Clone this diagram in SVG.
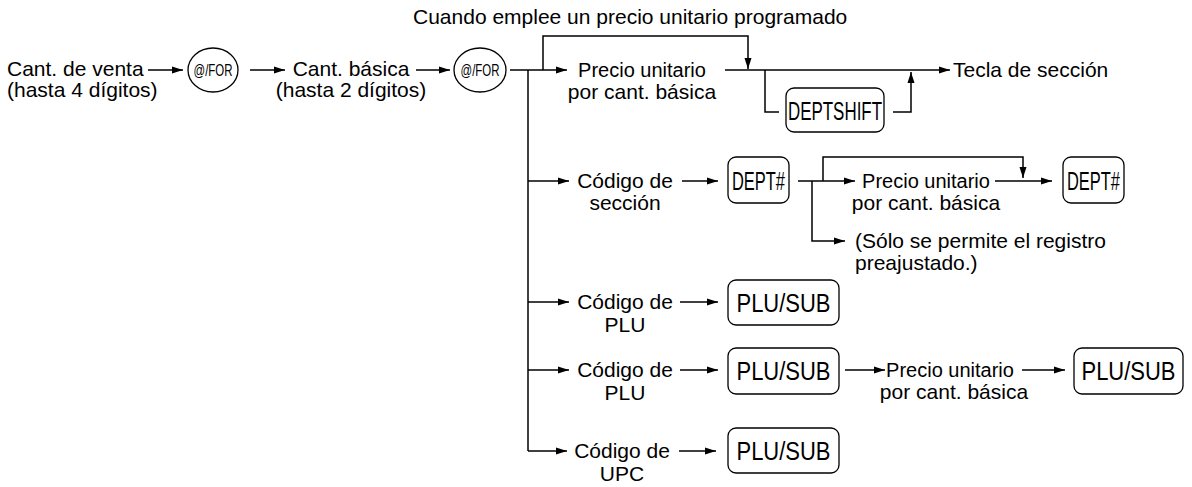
<svg xmlns="http://www.w3.org/2000/svg" width="1192" height="487" viewBox="0 0 1192 487">
<style>
.t{font-family:"Liberation Sans",Arial,sans-serif;font-size:21px;fill:#000}
.p{font-size:20px}
.m{text-anchor:middle}
.k{font-family:"Liberation Sans",Arial,sans-serif;font-size:26px;fill:#000;text-anchor:middle}
.kb{fill:#fff;stroke:#000;stroke-width:1.3}
.c{fill:none;stroke:#000;stroke-width:1.5}
</style>
<defs>
<marker id="ah" markerUnits="userSpaceOnUse" markerWidth="12" markerHeight="8" refX="11" refY="4" orient="auto">
<path d="M0,0.5 L11,4 L0,7.5 z" fill="#000"/>
</marker>
</defs>
<rect width="1192" height="487" fill="#fff"/>

<g id="connectors">
<path class="c" d="M148,70 H183" marker-end="url(#ah)"/>
<path class="c" d="M250,70 H285" marker-end="url(#ah)"/>
<path class="c" d="M416,70 H450" marker-end="url(#ah)"/>
<path class="c" d="M510,70 H567" marker-end="url(#ah)"/>
<path class="c" d="M543,70 V36 H748 V69" marker-end="url(#ah)"/>
<path class="c" d="M528,70 V451"/>
<path class="c" d="M528,181 H569" marker-end="url(#ah)"/>
<path class="c" d="M528,302 H569" marker-end="url(#ah)"/>
<path class="c" d="M528,370 H569" marker-end="url(#ah)"/>
<path class="c" d="M528,451 H567" marker-end="url(#ah)"/>
<path class="c" d="M725,70 H950" marker-end="url(#ah)"/>
<path class="c" d="M765,70 V112 H779"/>
<path class="c" d="M893,112 H911 V72" marker-end="url(#ah)"/>
<path class="c" d="M682,181 H718" marker-end="url(#ah)"/>
<path class="c" d="M798,181 H855" marker-end="url(#ah)"/>
<path class="c" d="M812,181 V241 H845" marker-end="url(#ah)"/>
<path class="c" d="M823,181 V157 H1023 V178" marker-end="url(#ah)"/>
<path class="c" d="M995,181 H1052" marker-end="url(#ah)"/>
<path class="c" d="M680,302 H718" marker-end="url(#ah)"/>
<path class="c" d="M680,370 H718" marker-end="url(#ah)"/>
<path class="c" d="M679,451 H716" marker-end="url(#ah)"/>
<path class="c" d="M845,370 H885" marker-end="url(#ah)"/>
<path class="c" d="M1022,370 H1065" marker-end="url(#ah)"/>
</g>

<g id="note"><text class="t" x="413" y="24">Cuando emplee un precio unitario programado</text></g>

<g id="cant-venta"><text class="t" x="7" y="76">Cant. de venta</text><text class="t" x="7" y="97">(hasta 4 dígitos)</text></g>
<g id="for1"><ellipse class="kb" cx="213" cy="70" rx="25" ry="22"/><text x="213" y="76" style="font-family:'Liberation Sans',Arial,sans-serif;font-size:16px;text-anchor:middle" textLength="39" lengthAdjust="spacingAndGlyphs">@/FOR</text></g>
<g id="cant-basica"><text class="t m" x="351" y="76">Cant. básica</text><text class="t m" x="351" y="97">(hasta 2 dígitos)</text></g>
<g id="for2"><ellipse class="kb" cx="480" cy="70" rx="26" ry="22"/><text x="480" y="76" style="font-family:'Liberation Sans',Arial,sans-serif;font-size:16px;text-anchor:middle" textLength="39" lengthAdjust="spacingAndGlyphs">@/FOR</text></g>

<g id="precio1"><text class="t p m" x="642" y="77">Precio unitario</text><text class="t m" x="642" y="99">por cant. básica</text></g>
<g id="deptshift"><rect class="kb" x="786" y="88" width="98" height="44" rx="8"/><text class="k" x="835" y="120" textLength="94" lengthAdjust="spacingAndGlyphs">DEPTSHIFT</text></g>
<g id="tecla"><text class="t" x="953" y="77">Tecla de sección</text></g>

<g id="codigo-seccion"><text class="t m" x="625" y="188">Código de</text><text class="t m" x="625" y="210">sección</text></g>
<g id="dept1"><rect class="kb" x="728" y="157" width="61" height="46" rx="8"/><text class="k" x="758.5" y="190" textLength="53" lengthAdjust="spacingAndGlyphs">DEPT#</text></g>
<g id="precio2"><text class="t p m" x="926" y="188">Precio unitario</text><text class="t m" x="926" y="210">por cant. básica</text></g>
<g id="dept2"><rect class="kb" x="1063" y="157" width="61" height="46" rx="8"/><text class="k" x="1093.5" y="190" textLength="53" lengthAdjust="spacingAndGlyphs">DEPT#</text></g>
<g id="solo"><text class="t" x="855" y="248">(Sólo se permite el registro</text><text class="t" x="855" y="270">preajustado.)</text></g>

<g id="codigo-plu1"><text class="t m" x="625" y="309">Código de</text><text class="t m" x="625" y="332">PLU</text></g>
<g id="plu1"><rect class="kb" x="728" y="280" width="111" height="45" rx="8"/><text class="k" x="783.5" y="312" textLength="94" lengthAdjust="spacingAndGlyphs">PLU/SUB</text></g>

<g id="codigo-plu2"><text class="t m" x="625" y="377">Código de</text><text class="t m" x="625" y="400">PLU</text></g>
<g id="plu2"><rect class="kb" x="728" y="348" width="111" height="46" rx="8"/><text class="k" x="783.5" y="380" textLength="94" lengthAdjust="spacingAndGlyphs">PLU/SUB</text></g>
<g id="precio3"><text class="t p m" x="950" y="377">Precio unitario</text><text class="t m" x="954" y="399">por cant. básica</text></g>
<g id="plu3"><rect class="kb" x="1074" y="348" width="109" height="46" rx="8"/><text class="k" x="1128.5" y="380" textLength="94" lengthAdjust="spacingAndGlyphs">PLU/SUB</text></g>

<g id="codigo-upc"><text class="t m" x="622" y="458">Código de</text><text class="t m" x="622" y="481">UPC</text></g>
<g id="plu4"><rect class="kb" x="728" y="428" width="111" height="45" rx="8"/><text class="k" x="783.5" y="460" textLength="94" lengthAdjust="spacingAndGlyphs">PLU/SUB</text></g>
</svg>
